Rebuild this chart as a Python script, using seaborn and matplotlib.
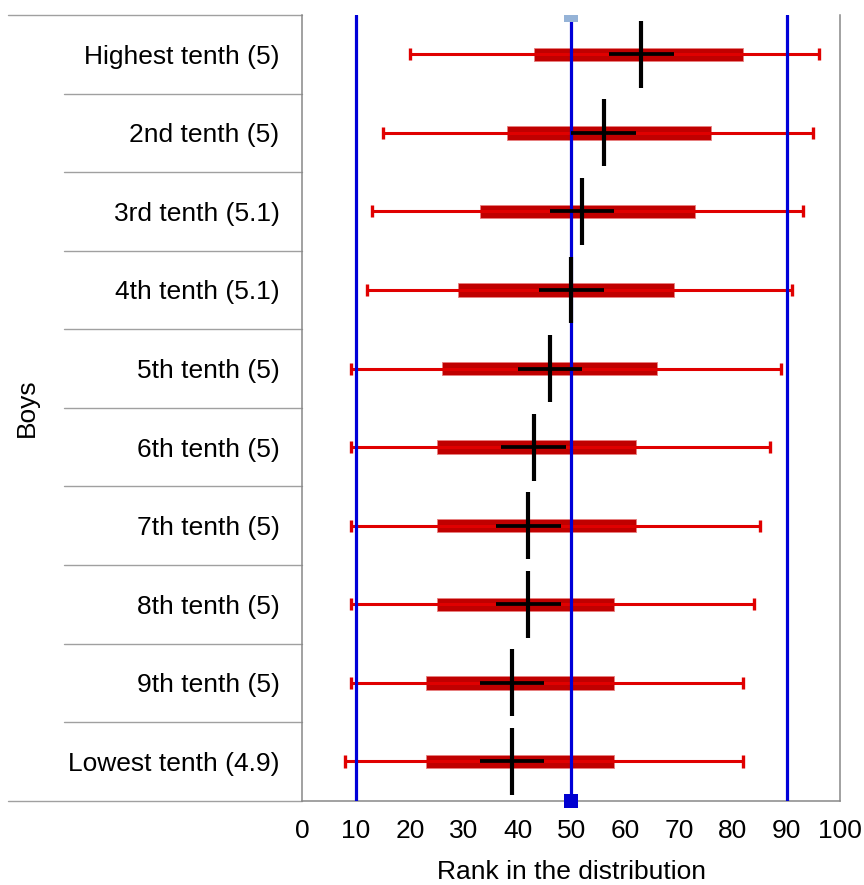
import matplotlib
matplotlib.use("Agg")
import matplotlib.pyplot as plt
import pandas as pd
import seaborn as sns
import numpy as np

# rows from top to bottom
groups = ["Highest tenth (5)", "2nd tenth (5)", "3rd tenth (5.1)", "4th tenth (5.1)",
          "5th tenth (5)", "6th tenth (5)", "7th tenth (5)", "8th tenth (5)",
          "9th tenth (5)", "Lowest tenth (4.9)"]
whisker_lo = [20, 15, 13, 12, 9, 9, 9, 9, 9, 8]
whisker_hi = [96, 95, 93, 91, 89, 87, 85, 84, 82, 82]
box_lo = [43, 38, 33, 29, 26, 25, 25, 25, 23, 23]
box_hi = [82, 76, 73, 69, 66, 62, 62, 58, 58, 58]
median = [63, 56, 52, 50, 46, 43, 42, 42, 39, 39]
ci_lo = [57, 50, 46, 44, 40, 37, 36, 36, 33, 33]
ci_hi = [69, 62, 58, 56, 52, 49, 48, 48, 45, 45]
ref_lines = [10, 50, 90]
ref_point = 50
xticks = list(range(0, 101, 10))

df = pd.DataFrame({"group": groups, "wlo": whisker_lo, "whi": whisker_hi,
                   "blo": box_lo, "bhi": box_hi, "med": median,
                   "clo": ci_lo, "chi": ci_hi})
df["y"] = np.arange(len(df))

sns.set_style("white")
plt.rcParams["font.family"] = ["Liberation Sans", "DejaVu Sans"]
plt.rcParams["text.color"] = "black"
plt.rcParams["xtick.labelcolor"] = "black"
plt.rcParams["ytick.labelcolor"] = "black"
plt.rcParams["axes.labelcolor"] = "black"

fig = plt.figure(figsize=(8.64, 8.85), dpi=100)
ax = fig.add_axes([0.3499, 0.0952, 0.6227, 0.8879])

# boxes (dark red bars)
ax.barh(df["y"], df["bhi"] - df["blo"], left=df["blo"], height=0.17,
        color="#C00000", edgecolor="#E88080", linewidth=0.6, zorder=2)
# whiskers through the box
ax.hlines(df["y"], df["wlo"], df["whi"], color="#E00000", lw=2.2, zorder=3)
ax.vlines(df["wlo"], df["y"] - 0.077, df["y"] + 0.077, color="#E00000", lw=2.4, zorder=3)
ax.vlines(df["whi"], df["y"] - 0.077, df["y"] + 0.077, color="#E00000", lw=2.4, zorder=3)

# reference lines
for v in ref_lines:
    ax.axvline(v, color="#0000D8", lw=2.3, zorder=4)

# median cross
ax.vlines(df["med"], df["y"] - 0.425, df["y"] + 0.425, color="black", lw=3.0, zorder=5)
ax.hlines(df["y"], df["clo"], df["chi"], color="black", lw=2.7, zorder=5)

# reference squares at top and bottom
sns.scatterplot(x=[ref_point], y=[-0.5], marker="s", s=100, color="#95B3D7",
                edgecolor="none", ax=ax, zorder=6, clip_on=True)
sns.scatterplot(x=[ref_point], y=[9.5], marker="s", s=100, color="#0000D0",
                edgecolor="none", ax=ax, zorder=6, clip_on=False)

ax.set_xlim(0, 100)
ax.set_ylim(9.5, -0.5)
ax.set_xticks(xticks)
ax.set_xticklabels([str(t) for t in xticks])
ax.set_yticks(df["y"])
ax.set_yticklabels(df["group"])
ax.tick_params(axis="x", direction="out", length=4.5, width=1, color="#A0A0A0",
               labelsize=19, labelcolor="black", pad=9)
ax.tick_params(axis="y", length=0, labelsize=19, labelcolor="black", pad=16.5)
ax.set_xlabel("Rank in the distribution", fontsize=19, color="black", labelpad=12)

for side in ["left", "bottom", "right"]:
    ax.spines[side].set_color("#888888")
    ax.spines[side].set_linewidth(1.1)
    ax.spines[side].set_visible(True)
ax.spines["top"].set_visible(False)

# row separators of the label table
trans = ax.get_yaxis_transform()
bounds = np.arange(len(df) + 1) - 0.5
for b in bounds:
    x0 = -0.547 if b in (bounds[0], bounds[-1]) else -0.443
    ax.plot([x0, 0.0], [b, b], color="#A0A0A0", lw=1.0, transform=trans,
            clip_on=False, zorder=1)

fig.text(0.031, (0.0952 + 0.9831) / 2, "Boys", rotation=90, fontsize=19,
         color="black", ha="center", va="center")

plt.savefig("out.png", dpi=100, facecolor="w")
plt.close()
